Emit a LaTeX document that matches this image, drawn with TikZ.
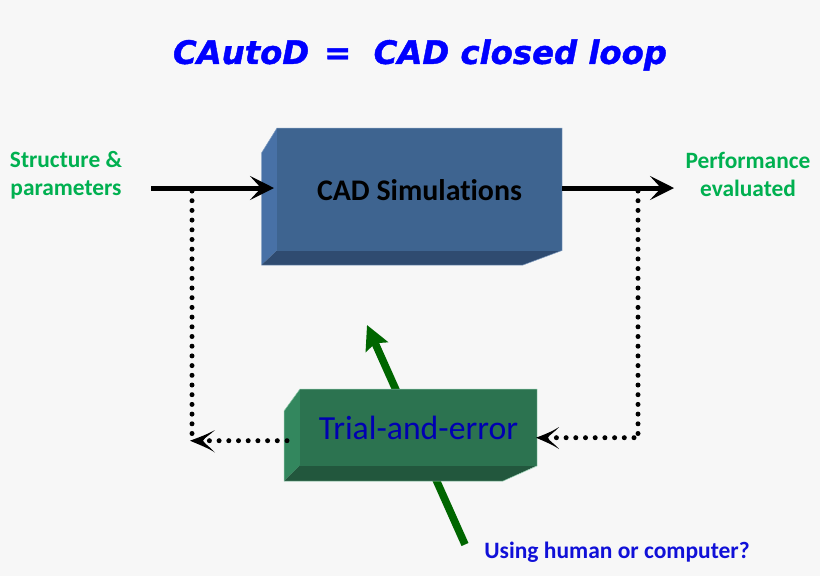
\documentclass[tikz,border=0pt]{standalone}
\usepackage{fontspec}
\setmainfont{Carlito}[Ligatures=NoCommon]
\newfontfamily\titlefont{DejaVu Sans}[BoldItalicFeatures={FakeBold=1.3}]
\usetikzlibrary{arrows.meta}
\definecolor{bgc}{HTML}{F7F7F7}
\definecolor{bluef}{HTML}{3E6490}
\definecolor{bluel}{HTML}{4871A6}
\definecolor{blueb}{HTML}{2F4B70}
\definecolor{blueo}{HTML}{7F9CC0}
\definecolor{greenf}{HTML}{2C7350}
\definecolor{greenl}{HTML}{33875E}
\definecolor{greenb}{HTML}{22573D}
\definecolor{greeno}{HTML}{8CC8A8}
\definecolor{lab}{HTML}{00B050}
\definecolor{ink}{HTML}{1010D8}
\tikzset{
 solidarrow/.style={line width=5pt,-{Stealth[length=24pt,width=24pt,inset=11pt]}},
 dotline/.style={line width=5pt,line cap=round,dash pattern=on 0pt off 9.7pt},
 greenarrow/.style={line width=7.6pt,draw=green!40!black,-{Stealth[length=24pt,width=24pt,inset=4pt]}},
 lbl/.style={text=lab,font=\bfseries\fontsize{23.4}{28}\selectfont,align=center,inner sep=0pt},
 outl/.style={line width=0.5pt,line join=round},
}
\begin{document}
\begin{tikzpicture}[x=1pt,y=-1pt]
\useasboundingbox (0,0) rectangle (820,576);
\fill[bgc] (0,0) rectangle (820,576);
% free connector ends
\coordinate (inS) at (151,188);
\coordinate (inE) at (274,188);
\coordinate (outE) at (674,188);
\coordinate (tapL) at (192,191);
\coordinate (tapR) at (638,191);
\coordinate (cornerL) at (192,440.7);
\coordinate (cornerR) at (638,441.5);
\coordinate (greenS) at (465,544.5);
\coordinate (greenE) at (367,325);
% green arrow behind box
\draw[greenarrow] (greenS) -- (greenE);
% CAD box
\fill[bluel] (261.5,153) -- (277,128) -- (277,250.5) -- (261.5,265) -- cycle;
\fill[blueb] (277,250.5) -- (562,250.5) -- (523,265) -- (261.5,265) -- cycle;
\node[fill=bluef,minimum width=285pt,minimum height=122.5pt,inner sep=0pt,anchor=north west] (cad) at (277,128) {};
\draw[blueo,outl] (261.5,153) -- (277,128) -- (562,128) -- (562,250.5) -- (523,265) -- (261.5,265) -- cycle;
\node[font=\bfseries\fontsize{29.9}{32}\selectfont,inner sep=0pt] (cadt) at (419.5,190) {CAD Simulations};
% trial box
\fill[greenl] (284,411) -- (300,389) -- (300,465.5) -- (284,481) -- cycle;
\fill[greenb] (300,465.5) -- (537,465.5) -- (503,481) -- (284,481) -- cycle;
\node[fill=greenf,minimum width=237pt,minimum height=76.5pt,inner sep=0pt,anchor=north west] (trial) at (300,389) {};
\draw[greeno,outl] (284,411) -- (300,389) -- (537,389) -- (537,466) -- (503,481) -- (284,481) -- cycle;
\node[font=\fontsize{33.7}{36}\selectfont,text=blue!70!black,inner sep=0pt] (trialt) at (418.5,428) {Trial-and-error};
% connectors
\draw[solidarrow] (inS) -- (inE);
\draw[solidarrow] (cad.east |- inS) -- (outE);
\draw[dotline] (tapL) -- (cornerL);
\draw[dotline] (tapR) -- (cornerR);
\draw[dotline] (634,437.7) -- (552,437.7);
\draw[dotline] (287,440.7) -- (cornerL);
\fill (536,437.7) .. controls (546,434) and (553,431) .. (559,427) .. controls (555,432) and (549,435) .. (548,437.7) .. controls (549,441) and (555,444) .. (559,449) .. controls (553,445) and (546,442) .. (536,437.7) -- cycle;
\fill (190,440.7) .. controls (200,437) and (208,434) .. (215,430) .. controls (210,435) and (205,437) .. (203,440.7) .. controls (205,444) and (210,447) .. (215,452.5) .. controls (208,448) and (200,445) .. (190,440.7) -- cycle;
% text
\node[lbl] (sp) at (66,175.5) {Structure \&\\parameters};
\node[lbl] (pe) at (748,174.5) {Performance\\evaluated};
\node[text=ink,font=\bfseries\fontsize{23.5}{26}\selectfont,inner sep=0pt] (uh) at (617,552) {Using human or computer?};
\node[text=blue,font=\titlefont\bfseries\itshape\fontsize{32.3}{36}\selectfont,inner sep=0pt] (title) at (420,55) {CAutoD\hspace{15pt}=\ \ CAD closed loop};
\end{tikzpicture}
\end{document}
